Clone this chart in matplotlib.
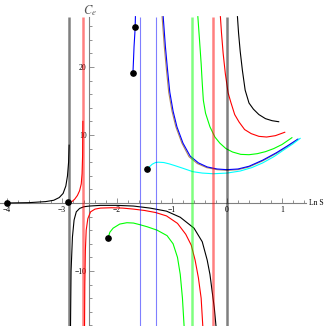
import matplotlib
matplotlib.use('Agg')
import matplotlib.pyplot as plt
from matplotlib.ticker import FixedLocator

plt.rcParams['font.family'] = ['Liberation Serif', 'DejaVu Serif']
plt.rcParams['mathtext.fontset'] = 'stix'

# plot range (x = ln S, y = c_e)
x_lo, x_hi = -4.127, 1.909
y_lo, y_hi = -18.09, 29.85
axis_x_end = 1.44
axis_y_top = 27.4
y_axis_at = -2.5

# asymptote lines
vlines_x = [-2.87, -2.62, -1.58, -1.29, -0.64, -0.25, 0.0]
vlines_c = ['black', 'red', 'blue', 'blue', '#00ff00', 'red', 'black']
vlines_w = [1.8, 1.8, 0.8, 0.8, 1.8, 1.8, 1.8]

# black curves
black_left_x = [-4.0, -3.6, -3.3, -3.15, -3.05, -2.98, -2.93, -2.9, -2.88, -2.87]
black_left_y = [0.0, 0.05, 0.2, 0.4, 0.8, 1.4, 2.5, 4.0, 6.0, 8.5]
black_low_x = [-2.845, -2.835, -2.81, -2.78, -2.74, -2.68, -2.6, -2.5, -2.3, -2.0, -1.7,
               -1.4, -1.1, -0.85, -0.6, -0.45, -0.36, -0.31, -0.27, -0.23, -0.2]
black_low_y = [-18.1, -10, -5, -2.5, -1.3, -0.8, -0.55, -0.45, -0.35, -0.35, -0.45,
               -0.75, -1.2, -2.1, -3.7, -5.7, -8.4, -10.5, -13, -15.5, -18.1]
black_up_x = [0.19, 0.21, 0.24, 0.28, 0.33, 0.4, 0.48, 0.58, 0.7, 0.82, 0.94]
black_up_y = [27.4, 25, 22.3, 19.5, 16.6, 14.7, 13.8, 13.0, 12.4, 12.1, 11.95]

# red curves
red_left_x = [-2.86, -2.82, -2.77, -2.72, -2.68, -2.65, -2.635, -2.625, -2.62]
red_left_y = [0.05, 0.2, 0.55, 1.1, 1.8, 2.8, 4.3, 7.0, 12.0]
red_low_x = [-2.59, -2.585, -2.575, -2.56, -2.53, -2.48, -2.4, -2.3, -2.1, -1.9, -1.7,
             -1.5, -1.3, -1.1, -0.9, -0.75, -0.65, -0.58, -0.52, -0.47, -0.44]
red_low_y = [-18.1, -12, -7, -4, -2.3, -1.3, -0.9, -0.75, -0.7, -0.75, -0.9,
             -1.1, -1.4, -1.9, -3.0, -4.6, -6.2, -8.4, -11, -14, -18.1]
red_up_x = [-0.12, -0.1, -0.07, -0.03, 0.02, 0.07, 0.14, 0.22, 0.32, 0.44, 0.58, 0.72, 0.88, 1.05]
red_up_y = [27.4, 25, 22, 19, 16.2, 14.8, 13.0, 11.9, 10.8, 10.2, 9.8, 9.7, 9.9, 10.4]

# green curves
green_low_x = [-2.16, -2.13, -2.07, -1.95, -1.82, -1.7, -1.58, -1.45, -1.27, -1.09,
               -0.98, -0.9, -0.85, -0.81, -0.78]
green_low_y = [-5.1, -4.3, -3.7, -3.1, -2.9, -2.95, -3.2, -3.5, -4.0, -4.8,
               -6.0, -8.0, -10.5, -14, -18.1]
green_up_x = [-0.53, -0.5, -0.47, -0.45, -0.43, -0.39, -0.31, -0.22, -0.13, -0.02, 0.1,
              0.25, 0.4, 0.55, 0.7, 0.85, 1.0, 1.18]
green_up_y = [27.4, 24, 20.5, 17.6, 15.1, 13.2, 11.2, 9.7, 8.8, 8.0, 7.5,
              7.15, 7.1, 7.25, 7.55, 8.0, 8.6, 9.6]

# blue curves
blue_seg_x = [-1.71, -1.70, -1.69, -1.675, -1.67, -1.665]
blue_seg_y = [19.1, 21, 23, 25, 25.9, 27.4]
blue_x = [-1.16, -1.12, -1.08, -1.04, -0.98, -0.91, -0.8, -0.67, -0.52, -0.36, -0.18,
          0.0, 0.2, 0.4, 0.65, 0.9, 1.1, 1.29]
blue_y = [27.4, 23, 19.5, 16.3, 13.5, 11.2, 8.8, 6.9, 5.9, 5.3, 5.0,
          4.9, 5.0, 5.4, 6.3, 7.4, 8.4, 9.4]
brown_x = [-1.18, -1.14, -1.10, -1.06, -1.0, -0.93, -0.82, -0.69, -0.54, -0.37, -0.18,
           0.0, 0.2, 0.4, 0.65, 0.9, 1.1, 1.28]
brown_y = [27.4, 23, 19.5, 16.3, 13.5, 11.2, 8.8, 6.8, 5.8, 5.2, 4.9,
           4.8, 4.9, 5.3, 6.2, 7.3, 8.3, 9.3]

# cyan curve
cyan_x = [-1.45, -1.4, -1.36, -1.3, -1.25, -1.15, -1.05, -0.95, -0.8, -0.62, -0.45,
          -0.25, 0.0, 0.24, 0.45, 0.65, 0.85, 1.05, 1.2, 1.33]
cyan_y = [5.0, 5.4, 5.7, 5.95, 6.0, 5.95, 5.75, 5.5, 5.1, 4.6, 4.4,
          4.3, 4.4, 4.7, 5.2, 5.9, 6.8, 7.9, 8.7, 9.5]

# start points
dots_x = [-4.0, -2.89, -2.16, -1.45, -1.71, -1.67]
dots_y = [0.0, 0.15, -5.1, 5.0, 19.1, 25.9]

fig = plt.figure(figsize=(3.32, 3.26), dpi=100)
ax = fig.add_axes([0, 0, 1, 1])
ax.set_xlim(x_lo, x_hi)
ax.set_ylim(y_lo, y_hi)

curves = [
    (black_left_x, black_left_y, 'black'),
    (black_low_x, black_low_y, 'black'),
    (black_up_x, black_up_y, 'black'),
    (red_left_x, red_left_y, 'red'),
    (red_low_x, red_low_y, 'red'),
    (red_up_x, red_up_y, 'red'),
    (green_low_x, green_low_y, '#00ff00'),
    (green_up_x, green_up_y, '#00ff00'),
    (brown_x, brown_y, '#b08860'),
    (blue_x, blue_y, 'blue'),
    (blue_seg_x, blue_seg_y, 'blue'),
    (cyan_x, cyan_y, 'cyan'),
]
for cx, cy, c in curves:
    ax.plot(cx, cy, color=c, lw=0.8, zorder=2, clip_on=False)

for x, c, w in zip(vlines_x, vlines_c, vlines_w):
    ax.vlines(x, y_lo, axis_y_top, colors=c, lw=w, alpha=0.5, zorder=3)

ax.plot(dots_x, dots_y, 'o', color='black', ms=3.8, zorder=5, clip_on=False)

# Mathematica style axes through (-2.5, 0)
for s in ['top', 'right']:
    ax.spines[s].set_visible(False)
ax.spines['left'].set_position(('data', y_axis_at))
ax.spines['bottom'].set_position(('data', 0))
ax.spines['left'].set_bounds(y_lo, axis_y_top)
ax.spines['bottom'].set_bounds(x_lo, axis_x_end)
for s in ['left', 'bottom']:
    ax.spines[s].set_color('#808080')
    ax.spines[s].set_linewidth(0.8)
    ax.spines[s].set_zorder(1)

ax.xaxis.set_major_locator(FixedLocator([-4, -3, -2, -1, 0, 1]))
ax.xaxis.set_minor_locator(FixedLocator([v / 5 for v in range(-20, 8) if v % 5]))
ax.yaxis.set_major_locator(FixedLocator([-10, 10, 20]))
ax.yaxis.set_minor_locator(FixedLocator([v for v in range(-18, 28, 2) if v % 10]))
ax.tick_params(which='both', direction='in', color='#808080', width=0.6,
               labelsize=5.5, pad=2)
ax.tick_params(which='major', length=3.6)
ax.tick_params(which='minor', length=2.2)

ax.text(y_axis_at, 28.3, r'$C_e$', ha='center', va='center', fontsize=9, color='#555555')
ax.text(1.49, 0, 'Ln S', ha='left', va='center', fontsize=5.5)

fig.savefig('out.png', dpi=100)
